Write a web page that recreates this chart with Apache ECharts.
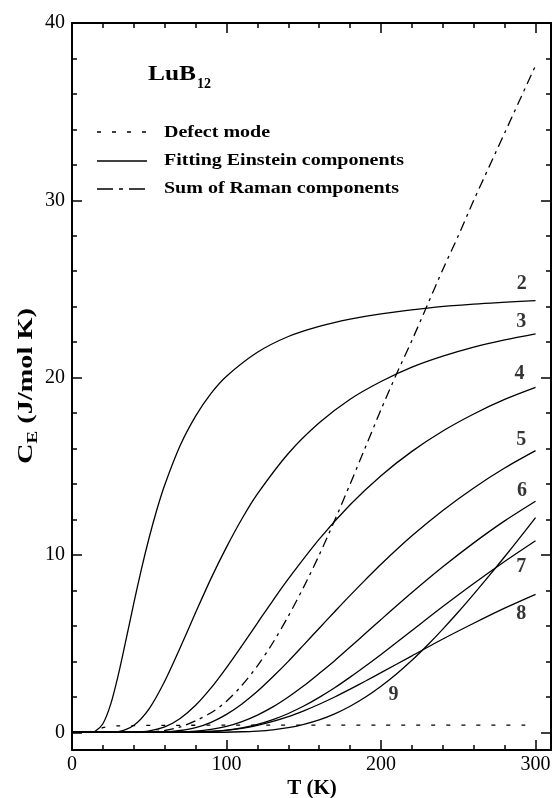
<!DOCTYPE html>
<html>
<head>
<meta charset="utf-8">
<script src="https://cdn.jsdelivr.net/npm/echarts@6/dist/echarts.min.js"></script>
<style>
  html, body { margin: 0; padding: 0; background: #fff; }
  #chart { width: 554px; height: 798px; }
</style>
</head>
<body>
<div id="chart"></div>
<script>
// Axis ticks
const tMajor = [0, 100, 200, 300];
const tMinor = [20, 40, 60, 80, 120, 140, 160, 180, 220, 240, 260, 280];
const cMajor = [0, 10, 20, 30, 40];
const cMinor = [2, 4, 6, 8, 12, 14, 16, 18, 22, 24, 26, 28, 32, 34, 36, 38];

// Defect mode contribution [T (K), C_E (J/mol K)]
const defectMode = [[0,0],[10,0.02],[15,0.12],[20,0.26],[25,0.33],[30,0.36],[40,0.38],[60,0.39],[100,0.4],[200,0.4],[300,0.4]];

// Fitted Einstein components 2..9
const mode2 = [[0,0],[10,0],[12,0.01],[15,0.06],[20,0.48],[25,1.57],[30,3.25],[35,5.24],[40,7.28],[45,9.23],[50,11.0],[55,12.58],[60,13.95],[70,16.17],[80,17.83],[90,19.11],[100,20.08],[120,21.43],[140,22.32],[160,22.89],[180,23.3],[200,23.6],[230,23.92],[260,24.14],[300,24.34]];
const mode3 = [[0,0],[20,0],[30,0.04],[40,0.39],[50,1.34],[60,2.88],[70,4.77],[80,6.75],[90,8.68],[100,10.44],[110,12.04],[120,13.44],[140,15.72],[160,17.45],[180,18.78],[200,19.78],[220,20.59],[240,21.21],[260,21.72],[280,22.13],[300,22.47]];
const mode4 = [[0,0],[30,0],[40,0.01],[50,0.08],[60,0.3],[70,0.78],[80,1.52],[90,2.5],[100,3.65],[110,4.89],[120,6.16],[130,7.43],[140,8.65],[160,10.89],[180,12.83],[200,14.47],[220,15.84],[240,16.99],[260,17.95],[280,18.77],[300,19.45]];
const mode5 = [[0,0],[40,0],[60,0.02],[70,0.1],[80,0.26],[90,0.56],[100,1.01],[110,1.6],[120,2.31],[130,3.13],[140,4.0],[150,4.93],[160,5.87],[170,6.8],[180,7.72],[190,8.61],[200,9.48],[220,11.08],[240,12.51],[260,13.78],[280,14.9],[300,15.88]];
const mode6 = [[0,0],[50,0],[70,0.02],[80,0.06],[90,0.16],[100,0.33],[110,0.6],[120,0.97],[130,1.43],[140,1.99],[150,2.62],[160,3.32],[170,4.04],[180,4.81],[190,5.58],[200,6.36],[220,7.88],[240,9.33],[260,10.68],[280,11.92],[300,13.03]];
const mode7 = [[0,0],[60,0],[80,0.02],[90,0.05],[100,0.12],[110,0.25],[120,0.44],[130,0.71],[140,1.06],[150,1.48],[160,1.97],[170,2.51],[180,3.11],[190,3.74],[200,4.39],[220,5.74],[240,7.09],[260,8.39],[280,9.63],[300,10.8]];
const mode8 = [[0,0],[60,0],[80,0.02],[90,0.05],[100,0.11],[110,0.22],[120,0.39],[130,0.61],[140,0.88],[150,1.21],[160,1.58],[170,1.99],[180,2.43],[190,2.89],[200,3.36],[220,4.31],[240,5.26],[260,6.15],[280,7.0],[300,7.78]];
const mode9 = [[0,0],[90,0],[110,0.03],[120,0.07],[130,0.14],[140,0.26],[150,0.45],[160,0.7],[170,1.04],[180,1.47],[190,1.99],[200,2.6],[210,3.29],[220,4.06],[230,4.91],[240,5.82],[250,6.78],[260,7.79],[270,8.83],[280,9.9],[290,10.99],[300,12.1]];

// Sum of the Raman-active components
const ramanSum = [[0,0],[40,0],[50,0.02],[60,0.1],[70,0.3],[80,0.65],[90,1.1],[100,1.75],[110,2.65],[120,3.75],[130,5.05],[140,6.55],[150,8.2],[160,10.0],[170,11.95],[180,14.0],[190,16.1],[200,18.2],[210,20.2],[220,22.1],[230,24.1],[240,26.1],[250,28.0],[260,30.0],[270,31.9],[280,33.8],[290,35.7],[300,37.6]];

// Component numbers and where they are written [T, C]
const modeTags = ['2', '3', '4', '5', '6', '7', '8', '9'];
const modeTagAt = [[291,25.3],[290.7,23.15],[289.6,20.24],[290.7,16.5],[291.3,13.6],[290.7,9.33],[290.7,6.66],[208.1,2.13]];

// Legend entries
const legendNames = ['Defect mode', 'Fitting Einstein components', 'Sum of Raman components'];

const SERIF = '"Liberation Serif", "Times New Roman", serif';
const BLACK = '#000';
const DOTTED = [4, 11];
const DASHDOT = [10, 5, 3, 5];
const modes = [mode2, mode3, mode4, mode5, mode6, mode7, mode8, mode9];

const chart = echarts.init(document.getElementById('chart'), null, { renderer: 'canvas' });

// text width helper for composing the axis title with a subscript
const measureCtx = document.createElement('canvas').getContext('2d');
function textWidth(str, font) { measureCtx.font = font; return measureCtx.measureText(str).width; }

function tickAxis(kind, position, values, len, showLine, labels) {
  return {
    position: position,
    type: 'value',
    min: kind === 'x' ? 0 : -1,
    max: kind === 'x' ? 310 : 40,
    splitLine: { show: false },
    axisLine: { show: showLine, onZero: false, lineStyle: { color: BLACK, width: 2 } },
    axisTick: { show: true, inside: true, length: len, customValues: values,
                lineStyle: { color: BLACK, width: 1.5 } },
    axisLabel: labels ? {
      show: true, customValues: values, color: BLACK, fontFamily: SERIF, fontSize: 20,
      margin: kind === 'x' ? 5 : 7
    } : { show: false }
  };
}

const series = [];
series.push({
  name: legendNames[0], type: 'line', data: defectMode, symbol: 'none',
  smooth: 0.3, lineStyle: { color: BLACK, width: 1.3, type: DOTTED }, z: 2
});
modes.forEach(function (d) {
  series.push({
    name: legendNames[1], type: 'line', data: d, symbol: 'none',
    smooth: 0.3, lineStyle: { color: BLACK, width: 1.3, type: 'solid' }, z: 3
  });
});
series.push({
  name: legendNames[2], type: 'line', data: ramanSum, symbol: 'none',
  smooth: 0.3, lineStyle: { color: BLACK, width: 1.3, type: DASHDOT }, z: 3
});
series.push({
  name: 'tags', type: 'scatter', symbolSize: 0, silent: true, z: 5,
  data: modeTagAt.map(function (p, i) { return [p[0], p[1], modeTags[i]]; }),
  label: {
    show: true, position: 'inside', color: BLACK, fontFamily: SERIF,
    fontWeight: 'bold', fontSize: 20,
    formatter: function (p) { return p.data[2]; }
  }
});

// Legend: line sample + wide bold label
const legendRows = [
  { y: 132, dash: DOTTED, textY: 133 },
  { y: 161, dash: null, textY: 161 },
  { y: 189, dash: [16, 6, 4, 6], textY: 188.5 }
];
const legendGraphics = [];
legendRows.forEach(function (r, i) {
  legendGraphics.push({
    type: 'line', shape: { x1: 97, y1: r.y, x2: 147, y2: r.y },
    style: { stroke: BLACK, lineWidth: 1.3, lineDash: r.dash || null }
  });
  legendGraphics.push({
    type: 'text', x: 164, y: r.textY, scaleX: 1.25,
    style: { text: legendNames[i], fill: BLACK, font: 'bold 16px ' + SERIF, align: 'left', verticalAlign: 'middle' }
  });
});

// Y axis title C_E (J/mol K), rotated, with subscript E
const yFont = 'bold 21px ' + SERIF;
const ySubFont = 'bold 14px ' + SERIF;
const yStretch = 1.35;
const wC = textWidth('C', yFont), wE = textWidth('E', ySubFont), wRest = textWidth(' (J/mol K)', yFont);
const yTitleW = (wC + wE + wRest) * yStretch;
const yTitle = {
  type: 'group', x: 27, y: 386 + yTitleW / 2, rotation: Math.PI / 2, scaleX: yStretch,
  children: [
    { type: 'text', x: 0, y: 0, style: { text: 'C', fill: BLACK, font: yFont, verticalAlign: 'middle' } },
    { type: 'text', x: wC, y: 6, style: { text: 'E', fill: BLACK, font: ySubFont, verticalAlign: 'middle' } },
    { type: 'text', x: wC + wE, y: 0, style: { text: ' (J/mol K)', fill: BLACK, font: yFont, verticalAlign: 'middle' } }
  ]
};

chart.setOption({
  animation: false,
  backgroundColor: '#fff',
  grid: { left: 72, right: 3, top: 23, bottom: 48, containLabel: false },
  xAxis: [
    tickAxis('x', 'bottom', tMajor, 10, true, true),
    tickAxis('x', 'bottom', tMinor, 5, false, false),
    tickAxis('x', 'top', tMajor, 10, true, false),
    tickAxis('x', 'top', tMinor, 5, false, false)
  ],
  yAxis: [
    tickAxis('y', 'left', cMajor, 10, true, true),
    tickAxis('y', 'left', cMinor, 5, false, false),
    tickAxis('y', 'right', cMajor, 10, true, false),
    tickAxis('y', 'right', cMinor, 5, false, false)
  ],
  graphic: legendGraphics.concat([
    { type: 'text', x: 148, y: 75, scaleX: 1.27,
      style: { text: 'LuB', fill: BLACK, font: 'bold 20px ' + SERIF, verticalAlign: 'middle' } },
    { type: 'text', x: 197, y: 84.7,
      style: { text: '12', fill: BLACK, font: 'bold 14px ' + SERIF, verticalAlign: 'middle' } },
    { type: 'text', x: 312, y: 789,
      style: { text: 'T (K)', fill: BLACK, font: 'bold 21px ' + SERIF, align: 'center', verticalAlign: 'middle' } },
    yTitle
  ]),
  series: series
});
</script>
</body>
</html>
